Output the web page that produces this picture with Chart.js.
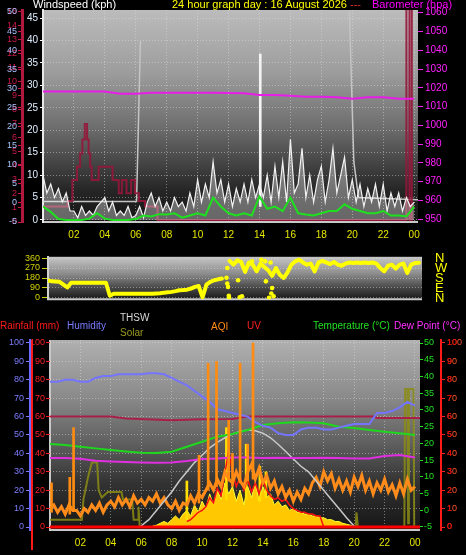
<!DOCTYPE html>
<html>
<head>
<meta charset="utf-8">
<title>24 hour graph</title>
<script src="https://cdn.jsdelivr.net/npm/chart.js@4.4.1/dist/chart.umd.min.js"></script>
<style>
  html, body { margin: 0; background: #000; }
  #wrap { position: relative; width: 466px; height: 555px; overflow: hidden; background: #000;
          font-family: "Liberation Sans", Arial, sans-serif; }
  #wrap canvas { position: absolute; left: 0; }
  .t { position: absolute; white-space: nowrap; font-size: 11px; line-height: 12px; }
  .s { font-size: 10px; }
</style>
</head>
<body>
<div id="wrap">
  <canvas id="windChart" width="466" height="244" style="top:0"></canvas>
  <canvas id="dirChart" width="466" height="84" style="top:236px"></canvas>
  <canvas id="climChart" width="466" height="225" style="top:330px"></canvas>

  <div class="t" style="left:33px;top:-2px;color:#ffffff">Windspeed (kph)</div>
  <div class="t" style="left:172px;top:-2px;color:#ffff00">24 hour graph day : 16 August 2026 <span style="color:#e03030">---</span></div>
  <div class="t" style="left:372px;top:-2px;color:#ff00ff">Barometer (hpa)</div>

  <div class="t s" style="left:0;top:320px;color:#ff1a1a">Rainfall (mm)</div>
  <div class="t s" style="left:67px;top:320px;color:#7a7aff">Humidity</div>
  <div class="t s" style="left:120px;top:312px;color:#d8d8d8">THSW</div>
  <div class="t s" style="left:120px;top:327px;color:#9a9a1e">Solar</div>
  <div class="t s" style="left:211px;top:321px;color:#ff8c1a">AQI</div>
  <div class="t s" style="left:247px;top:320px;color:#ff2020">UV</div>
  <div class="t s" style="left:313px;top:320px;color:#22e022">Temperature (°C)</div>
  <div class="t s" style="left:394px;top:320px;color:#ff30ff">Dew Point (°C)</div>
</div>
<script>
// ---------- data ----------
const hourTicks = [2, 4, 6, 8, 10, 12, 14, 16, 18, 20, 22, 24];

// top panel: wind (kph), every 15 min
const windGust = [10, 6, 8, 5, 7, 4, 6, 2, 2, 0.5, 3, 1, 2, 1, 3, 4, 5, 2, 4, 1, 2, 1, 3, 0.5,
  1, 3, 0.5, 4, 6, 3, 5, 2, 4, 2, 5, 3, 4, 2, 6, 3, 9, 4, 8, 5, 13, 6, 9, 4, 8, 3, 7, 4,
  8, 4, 9, 5, 8, 5, 10, 4, 12, 5, 13, 4, 18, 6, 8, 16, 5, 10, 4, 9, 12, 4, 9, 16, 6, 10, 14, 5,
  9, 4, 8, 3, 7, 4, 8, 3, 8, 2, 6, 3, 6, 2, 5, 3, 4];
const windSpikes = [[14.05, 3, 37]];
// average wind, every 30 min
const windAvg = [3, 1.8, 0.2, 0, 0, 0, 0.3, 1.5, 0.3, 0, 0, 0, 0.2, 1, 0.8, 1.3, 1.2, 1.5, 0.5, 1,
  1.5, 1, 5, 3, 1.5, 1, 1.5, 1, 5.2, 2.5, 3, 2, 5, 1.5, 1.2, 1, 1.5, 2, 2, 3.5, 2.5, 2, 1.5, 1.5,
  2, 1, 1, 0.8, 3];
const peakHours = [0, 6.05, 6.3, 6.35, 19.8, 20.1, 20.4, 24.25];
const peakKph = [4.1, 4.1, 40, null, 48, 13, 5, 4.5];
// stepped series on the 0-15 scale
const stepHours = [0, 1.6, 1.9, 2.2, 2.4, 2.55, 2.7, 2.85, 2.95, 3.05, 3.15, 3.6, 4.5, 4.9, 5.1,
  5.4, 5.7, 5.95, 6.2, 6.6, 7.4, 23.5, 23.7, 23.85, 24.25];
const stepVals = [1.1, 1.5, 3.0, 3.95, 4.9, 5.9, 7.0, 5.9, 4.9, 3.95, 3.0, 3.95, 3.0, 2.05, 3.0,
  2.05, 3.0, 2.05, 1.5, 1.1, 0.15, 15.3, 0.15, 15.3, 15.3];
// barometer (hpa), hourly
const baro = [1018.0, 1018.0, 1018.0, 1018.0, 1018.0, 1016.9, 1016.9, 1017.4, 1017.4, 1017.4,
  1017.4, 1017.4, 1017.2, 1017.1, 1016.2, 1016.2, 1015.8, 1015.2, 1015.3, 1015.0, 1014.2,
  1015.0, 1015.0, 1014.2, 1014.2];
const windTicks = [0, 5, 10, 15, 20, 25, 30, 35, 40, 45];
const outerRed = [0, 1, 2, 3, 4, 5, 6, 7, 8, 9, 10, 11, 12, 13, 14, 15];
const outerBlue = [-5, 0, 5, 10, 15, 20, 25, 30, 35, 40, 45, 50];
const baroTicks = [950, 960, 970, 980, 990, 1000, 1010, 1020, 1030, 1040, 1050, 1060];

// middle panel: wind direction (deg), every 15 min
const windDir = [158, 150, 148, 146, 120, 95, 138, 138, 138, 138, 138, 138, 138, 138, 138, 137,
  20, 38, 38, 38, 38, 38, 38, 38, 38, 38, 38, 38, 40, 42, 48, 52, 55, 62, 70, 72,
  75, 85, 100, 108, 5, 120, 145, 160, 168, 175, null, 335, 300, 340, 325, 235,
  320, 300, 240, 310, 280, 250, 200, 270, 210, 180, 230, 300, 330, 345, 320, 300,
  310, 240, 320, 335, 320, 305, 325, 300, 290, 310, 320, 315, 320, 315, 320, 315,
  320, 310, 270, 240, 290, 300, 265, 300, 310, 225, 300, 315, 318];
const dirStray = [[11.55, 182], [11.6, 130], [11.65, 100], [11.7, 20], [11.72, 2], [11.6, 270],
  [12.3, 160], [12.4, 5], [12.55, 15], [13.2, 330], [13.8, 345], [14.05, 330], [14.3, 2],
  [14.45, 40], [14.5, 90], [14.4, 320], [14.6, 15], [14.1, 150]];
const dirTicks = [0, 90, 180, 270, 360];
const compass = ['N', 'E', 'S', 'W', 'N'];

// bottom panel
const humidity = [79, 79, 80, 80, 79, 79, 81, 82, 82, 83, 83, 83, 83, 83.5, 83.5, 83, 81, 79, 77,
  74, 71, 68, 64, 63, 62, 61, 60, 57, 55, 54, 51, 50, 50, 53, 54, 54, 53, 53, 54, 55, 56, 56,
  56, 62, 62, 63, 65, 68, 66];                      // every 30 min
const temperature = [19.8, 19.5, 19.0, 18.5, 18.0, 17.6, 17.2, 17.1, 17.5, 19.0, 20.5, 22.0,
  22.8, 24.0, 25.5, 26.0, 26.3, 26.2, 26.0, 25.0, 24.6, 24.0, 23.5, 23.0, 22.5];   // hourly
const dewPoint = [15.6, 15.6, 15.4, 14.8, 14.6, 14.4, 14.3, 14.2, 14.3, 14.7, 15.3, 15.5, 15.8,
  15.8, 15.6, 15.7, 15.6, 15.6, 15.7, 15.6, 15.5, 15.5, 16.2, 16.5, 15.8];         // hourly
const maroonHours = [0, 4, 5, 8, 10, 12, 13, 21.3, 21.5, 24.33];
const maroonVals = [60, 60, 59, 58, 58.5, 58.7, 60, 60, 59.3, 59.3];
const thswHours = [5.9, 6.5, 7, 7.5, 8, 8.5, 9, 9.5, 10, 10.5, 11, 11.5, 12, 12.5, 13, 13.5, 14,
  14.5, 15, 15.5, 16, 16.5, 17, 17.5, 18, 18.5, 19, 19.5, 20, 20.1];
const thsw = [0, 4, 9, 14, 19, 25, 30, 35, 39, 43, 46, 48.5, 50.5, 52, 52.7, 52.3, 51, 48.5, 45,
  41, 37, 33, 30, 25, 20, 15, 10, 5, 0.5, 0];
const aqi = [10, 12, 8, 11, 7, 12, 9, 9, 6, 10, 8, 12, 9, 13, 8, 12, 14, 11, 16, 12, 15, 11, 17,
  13, 15, 12, 16, 14, 18, 13, 16, 12, 10, 14, 9, 13, 12, 17, 13, 18, 16, 20, 24, 20, 26, 22,
  30, 26, 24, 30, 25, 22, 30, 34, 26, 32, 24, 28, 21, 25, 18, 22, 16, 20, 14, 19, 15, 21, 18,
  24, 27, 22, 30, 25, 29, 21, 26, 20, 25, 19, 27, 22, 28, 20, 25, 18, 24, 20, 26, 19, 23, 17,
  24, 18, 26, 20, 22];                               // every 15 min
const aqiSpikes = [[0.1, 8, 24], [1.3, 7, 27], [1.55, 9, 54], [9.8, 13, 39], [10.4, 20, 89],
  [10.95, 22, 90], [11.75, 25, 58], [12.0, 22, 40], [12.5, 24, 89], [13.0, 25, 45], [13.35, 26, 100]];
const solarStart = 6.75;
const solar = [0.5, 1, 2, 3, 2, 4, 6, 4, 7, 9, 6, 12, 8, 14, 10, 18, 12, 20, 15, 24, 18, 22, 14,
  20, 12, 22, 16, 24, 14, 22, 16, 18, 12, 14, 11, 12, 9, 10, 8, 8, 7, 7, 6, 6, 5, 5, 4, 4, 3,
  3, 2, 1.5, 1, 0];                                  // every 15 min
const solarSpikes = [[9.0, 4, 25], [11.6, 15, 54], [12.9, 15, 45], [13.8, 14, 33], [14.2, 16, 30]];
const uvStart = 9;
const uv = [0.3, 0.4, 0.6, 0.8, 0.9, 1.1, 1.6, 1.3, 2.1, 1.7, 2.9, 4.2, 3.0, 2.2, 2.7, 2.0, 2.6,
  1.9, 2.4, 1.8, 2.6, 2.0, 1.7, 1.5, 1.6, 1.4, 1.5, 1.2, 1.0, 0.9, 0.8, 0.8, 0.7, 0.7, 0.6, 0.6,
  0, 0];                                             // every 15 min
const oliveHours = [0, 2.1, 2.2, 2.5, 2.75, 3.1, 3.2, 3.4, 3.8, 4.7, 4.8, 5.4, 5.5, 5.8, 5.82, 5.9,
  20.1, 20.15, 20.25, 23.3, 23.35, 23.5, 23.55, 23.6, 23.9, 23.95, 24.33];
const oliveVals = [4, 4, 15, 27, 35, 35, 20, 16, 19, 19, 15, 15, 4, 4, 11, 0, 0, 8, 0, 0, 75, 75,
  2, 75, 75, 0, 0];
const pctTicks = [0, 10, 20, 30, 40, 50, 60, 70, 80, 90, 100];
const tempTicks = [-5, 0, 5, 10, 15, 20, 25, 30, 35, 40, 45, 50];
const uvTicks = [0, 1, 2, 3, 4, 5, 6, 7, 8, 9, 10];

// ---------- helpers ----------
function series(start, step, values) {
    return values.map((v, i) => ({x: start + i * step, y: v}));
}
function pairs(xs, ys) {
    return xs.map((x, i) => ({x: x, y: ys[i]}));
}
function spikes(list) {
    return list.map(s => ({x: s[0], y: [s[1], s[2]]}));
}
function hourText(v) {
    return v === 24 ? '00' : (v < 10 ? '0' + v : String(v));
}
const width = w => s => { s.width = w; };
const fixed = list => s => { s.ticks = list.map(v => ({value: v})); };
const plain = v => String(v);
const gridColor = 'rgba(228,228,228,0.45)';

// gradient plot background + frame + extra axis bars
const panel = {
    id: 'panel',
    beforeDraw(chart, args, opts) {
        const a = chart.chartArea, ctx = chart.ctx;
        const g = ctx.createLinearGradient(0, a.top, 0, a.bottom);
        opts.stops.forEach(s => g.addColorStop(s[0], s[1]));
        ctx.save();
        ctx.fillStyle = g;
        ctx.fillRect(a.left, a.top, a.right - a.left, a.bottom - a.top);
        ctx.strokeStyle = '#c8c8c8';
        ctx.lineWidth = 2;
        ctx.beginPath();
        ctx.moveTo(a.left, a.top);
        ctx.lineTo(a.left, a.bottom);
        ctx.lineTo(a.right, a.bottom);
        ctx.stroke();
        ctx.restore();
    },
    afterDraw(chart, args, opts) {
        (opts.bars || []).forEach(b => {
            const s = chart.scales[b.axis], ctx = chart.ctx;
            ctx.save();
            ctx.strokeStyle = b.color;
            ctx.lineWidth = b.width;
            ctx.beginPath();
            ctx.moveTo(s.left + b.dx, chart.chartArea.top);
            ctx.lineTo(s.left + b.dx, chart.chartArea.bottom + 20);
            ctx.stroke();
            ctx.restore();
        });
    }
};

Chart.defaults.font.family = '"Liberation Sans", Arial, sans-serif';
Chart.defaults.font.size = 10;
Chart.defaults.animation = false;
Chart.defaults.events = [];
Chart.defaults.elements.point.radius = 0;
Chart.defaults.plugins.legend.display = false;
Chart.defaults.plugins.tooltip.enabled = false;

function hourAxis(max, height) {
    return {
        type: 'linear', min: 0, max: max, offset: false,
        afterBuildTicks: fixed(hourTicks),
        afterFit: s => { s.height = height; },
        ticks: {color: '#e6e600', font: {size: 10}, padding: 7, autoSkip: false, maxRotation: 0, callback: hourText},
        grid: {color: gridColor, drawTicks: false, offset: false},
        border: {display: false, dash: [1, 2]}
    };
}

// ---------- top: wind + barometer ----------
new Chart(document.getElementById('windChart'), {
    type: 'line',
    data: {
        datasets: [
            {data: series(0, 0.5, windAvg), borderColor: '#1ee01e', borderWidth: 2, yAxisID: 'yWind', order: 1},
            {data: series(0, 1, baro), borderColor: '#e81ee8', borderWidth: 2, yAxisID: 'yBaro', order: 2},
            {data: series(0, 0.25, windGust), borderColor: '#f2f2f2', borderWidth: 1.2, fill: 'origin',
             backgroundColor: 'rgba(255,255,255,0.35)', yAxisID: 'yWind', order: 3},
            {type: 'bar', data: spikes(windSpikes), backgroundColor: '#f4f4f4', barThickness: 2,
             grouped: false, yAxisID: 'yWind', order: 3},
            {data: pairs(stepHours, stepVals), stepped: 'before', borderColor: 'rgba(150,22,58,0.9)',
             borderWidth: 2, yAxisID: 'yOuter', order: 4},
            {data: pairs(peakHours, peakKph), borderColor: '#c4c4c4', borderWidth: 1.5, yAxisID: 'yWind', order: 5}
        ]
    },
    options: {
        responsive: false,
        layout: {padding: {top: 10, bottom: 0, left: 0, right: 0}},
        scales: {
            x: hourAxis(24.25, 22),
            yWind: {
                position: 'left', weight: 0, min: -0.45, max: 46.8,
                afterBuildTicks: fixed(windTicks), afterFit: width(21),
                ticks: {color: '#dfeeff', font: {size: 10}, padding: 2, autoSkip: false, callback: plain},
                grid: {color: gridColor, tickColor: '#ffffff', tickLength: 3},
                border: {color: '#e8e8e8', width: 2, dash: [1, 2]}
            },
            yOuter: {
                position: 'left', weight: 1, min: 0, max: 15.14,
                afterBuildTicks: s => {
                    s.ticks = outerRed.map(v => ({value: v, kind: 'r'}))
                        .concat(outerBlue.map(v => ({value: (v + 5) * 15 / 55, kind: 'b', text: String(v)})));
                },
                afterFit: width(22),
                ticks: {
                    autoSkip: false, font: {size: 9}, padding: 1,
                    color: c => (c.tick && c.tick.kind === 'b') ? '#a9c2ff' : '#c8184a',
                    callback: (v, i, t) => t[i].kind === 'b' ? t[i].text : String(v)
                },
                grid: {drawOnChartArea: false, tickColor: '#c8184a', tickLength: 4},
                border: {color: '#b0183e', width: 3}
            },
            yBaro: {
                position: 'right', min: 948.56, max: 1061.44,
                afterBuildTicks: fixed(baroTicks), afterFit: width(48),
                ticks: {color: '#ff20ff', font: {size: 10}, padding: 2, autoSkip: false, callback: plain},
                grid: {drawOnChartArea: false, tickColor: '#ff20ff', tickLength: 5},
                border: {display: false}
            }
        },
        plugins: {
            panel: {stops: [[0, '#bcbcbc'], [0.3, '#9c9c9c'], [0.55, '#6e6e6e'], [0.7, '#4a4a4a'], [0.85, '#262626'], [1, '#141414']]}
        }
    },
    plugins: [panel]
});

// ---------- middle: wind direction ----------
new Chart(document.getElementById('dirChart'), {
    type: 'line',
    data: {
        datasets: [
            {data: dirStray.map(p => ({x: p[0], y: p[1]})), showLine: false, pointRadius: 2.3,
             pointBackgroundColor: '#ffff00', pointBorderWidth: 0, yAxisID: 'yDir', order: 0},
            {data: series(0, 0.25, windDir), borderColor: '#ffff00', borderWidth: 4,
             borderCapStyle: 'round', borderJoinStyle: 'round', yAxisID: 'yDir', order: 1}
        ]
    },
    options: {
        responsive: false,
        layout: {padding: {top: 7, bottom: 8, left: 0, right: 0}},
        scales: {
            x: {type: 'linear', min: 0, max: 24.2, display: false},
            yDir: {
                position: 'left', min: -11, max: 371,
                afterBuildTicks: fixed(dirTicks), afterFit: width(48),
                ticks: {color: '#d2d200', font: {size: 9}, padding: 2, autoSkip: false, callback: plain},
                grid: {color: gridColor, tickColor: '#d2d200', tickLength: 6},
                border: {color: '#d0d0d0', width: 2, dash: [1, 2]}
            },
            yCompass: {
                position: 'right', min: -11, max: 371,
                afterBuildTicks: fixed(dirTicks), afterFit: width(44),
                ticks: {color: '#ffff00', font: {size: 13}, padding: 13, autoSkip: false,
                        callback: (v, i) => compass[i]},
                grid: {drawOnChartArea: false, drawTicks: false},
                border: {display: false}
            }
        },
        plugins: {
            panel: {stops: [[0, '#c6c6c6'], [0.4, '#8c8c8c'], [0.75, '#444444'], [1, '#1a1a1a']]}
        }
    },
    plugins: [panel]
});

// ---------- bottom: rain, humidity, temperature, solar, UV, AQI ----------
new Chart(document.getElementById('climChart'), {
    type: 'line',
    data: {
        datasets: [
            {type: 'bar', data: spikes(aqiSpikes), backgroundColor: '#ff8c10', barThickness: 2,
             grouped: false, yAxisID: 'yAqi', order: 0},
            {data: [{x: 0, y: 0}, {x: 24.33, y: 0}], borderColor: '#ff0000', borderWidth: 3, yAxisID: 'yRain', order: 0},
            {data: series(0, 0.5, humidity), borderColor: '#7474ff', borderWidth: 2, yAxisID: 'yHum', order: 1},
            {data: series(0, 1, temperature), borderColor: '#1ed81e', borderWidth: 2, yAxisID: 'yTemp', order: 1},
            {data: series(0, 1, dewPoint), borderColor: '#e02ee0', borderWidth: 2, yAxisID: 'yTemp', order: 1},
            {data: pairs(maroonHours, maroonVals), borderColor: '#a8204a', borderWidth: 2, yAxisID: 'yRain', order: 1},
            {data: pairs(thswHours, thsw), borderColor: '#c8c8c8', borderWidth: 1.5, yAxisID: 'yRain', order: 2},
            {data: series(0, 0.25, aqi), borderColor: '#ff8c1a', borderWidth: 3, yAxisID: 'yAqi', order: 3},
            {data: series(uvStart, 0.25, uv), borderColor: '#ff1010', borderWidth: 1.5, yAxisID: 'yUV', order: 4},
            {type: 'bar', data: spikes(solarSpikes), backgroundColor: '#ffe000', barThickness: 2,
             grouped: false, yAxisID: 'yRain', order: 5},
            {data: series(solarStart, 0.25, solar), borderColor: '#ffff30', borderWidth: 1, fill: 'origin',
             backgroundColor: '#ffc800', yAxisID: 'yRain', order: 6},
            {data: pairs(oliveHours, oliveVals), borderColor: 'rgba(140,140,20,0.85)', borderWidth: 2, yAxisID: 'yRain', order: 7}
        ]
    },
    options: {
        responsive: false,
        layout: {padding: {top: 10, bottom: 0, left: 0, right: 0}},
        scales: {
            x: hourAxis(24.33, 25),
            yRain: {
                position: 'left', weight: 0, min: -1.63, max: 101.63,
                afterBuildTicks: fixed(pctTicks), afterFit: width(20),
                ticks: {color: '#ff2020', font: {size: 9}, padding: 1, autoSkip: false, callback: plain},
                grid: {color: gridColor, tickColor: '#ff2020', tickLength: 4},
                border: {display: false, dash: [1, 2]}
            },
            yHum: {
                position: 'left', weight: 1, min: -1.63, max: 101.63,
                afterBuildTicks: fixed(pctTicks), afterFit: width(30),
                ticks: {color: '#7c7cff', font: {size: 9}, padding: 2, autoSkip: false, callback: plain},
                grid: {drawOnChartArea: false, tickColor: '#7c7cff', tickLength: 4},
                border: {color: '#6a6aff', width: 2}
            },
            yTemp: {
                position: 'right', weight: 0, min: -5.9, max: 50.9,
                afterBuildTicks: fixed(tempTicks), afterFit: width(21),
                ticks: {color: '#20e020', font: {size: 9}, padding: 1, autoSkip: false, callback: plain},
                grid: {drawOnChartArea: false, tickColor: '#20e020', tickLength: 3},
                border: {display: false}
            },
            yAqi: {
                position: 'right', weight: 1, min: -1.63, max: 101.63,
                afterBuildTicks: s => {
                    s.ticks = pctTicks.map(v => ({value: v, kind: 'a'}))
                        .concat(uvTicks.map(u => ({value: u * 10, kind: 'u', text: String(u)})));
                },
                afterFit: width(25),
                ticks: {
                    autoSkip: false, font: {size: 9}, padding: 2,
                    color: c => (c.tick && c.tick.kind === 'u') ? '#e00000' : '#ff5a2a',
                    callback: (v, i, t) => t[i].kind === 'u' ? t[i].text : String(v)
                },
                grid: {drawOnChartArea: false, tickColor: '#ff2020', tickLength: 4},
                border: {color: '#ff1a1a', width: 2}
            },
            yUV: {display: false, min: -0.163, max: 10.163}
        },
        plugins: {
            panel: {
                stops: [[0, '#b0b0b0'], [0.3, '#8a8a8a'], [0.55, '#5e5e5e'], [0.75, '#333333'], [1, '#161616']],
                bars: [{axis: 'yRain', dx: 2, color: '#ff1a1a', width: 2}]
            }
        }
    },
    plugins: [panel]
});
</script>
</body>
</html>
